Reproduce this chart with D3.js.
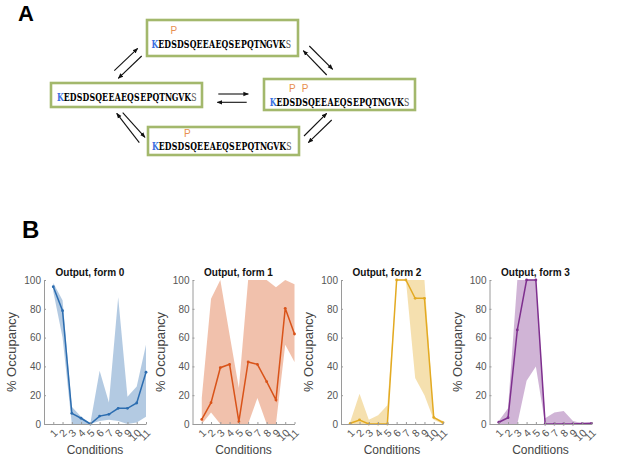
<!DOCTYPE html>
<html>
<head>
<meta charset="utf-8">
<script src="https://cdn.jsdelivr.net/npm/d3@7.9.0/dist/d3.min.js"></script>
<style>
  html, body { margin: 0; padding: 0; background: #fff; }
  svg { display: block; }
</style>
</head>
<body>
<div id="chart"></div>
<script>
// ---- panel A: phospho states ----
const sequence = 'KEDSDSQEEAEQSEPQTNGVKS';
const stateSites = [[], [3], [3, 5], [5]];   // left, top, right, bottom

// ---- panel B: occupancy per condition ----
const conditions = [1, 2, 3, 4, 5, 6, 7, 8, 9, 10, 11];
const tickLabels = ['1', '2', '3', '4', '5', '6', '7', '8', '9', '10', '11'];
const yTicks = [0, 20, 40, 60, 80, 100];
const titles = ['Output, form 0', 'Output, form 1', 'Output, form 2', 'Output, form 3'];

const form0Mean  = [95.3, 78.7, 7.4, 4.0, 0.0, 5.5, 6.7, 10.9, 10.9, 14.6, 36.0];
const form0Upper = [98, 86, 12, 5, 0.5, 37, 15, 88, 19, 26, 55];
const form0Lower = [92, 60, 0, 0, 0, 2, 3, 2, 0, 1, 5];

const form1Mean  = [3.2, 14.8, 39.1, 41.4, 1.6, 43.1, 41.4, 29.4, 16.7, 80.3, 62.5];
const form1Upper = [18, 87, 100, 62, 25, 100, 100, 100, 95, 100, 97];
const form1Lower = [0, 8, 0, 0, 0, 0, 18, 0, 0, 55, 43];

const form2Mean  = [0.5, 2.8, 0, 0, 0, 100, 100, 87.3, 87.3, 4.6, 1.0];
const form2Upper = [1.5, 21, 3, 6, 13, 100, 100, 100, 100, 5, 2];
const form2Lower = [0, 0, 0, 0, 0, 100, 100, 32, 20, 3, 0];

const form3Mean  = [1.2, 4.4, 65.3, 100, 100, 0, 0, 0, 0, 0.3, 0.5];
const form3Upper = [2, 11, 100, 100, 100, 4, 8, 9, 2, 0.5, 0.5];
const form3Lower = [0, 0, 0, 30, 40, 0, 0, 0, 0, 0, 0];

const lineColors = ['#2c6db0', '#d95319', '#e3aa22', '#7e2f8e'];

const width = 617, height = 460;
const svg = d3.select('#chart').append('svg')
  .attr('width', width).attr('height', height)
  .attr('viewBox', `0 0 ${width} ${height}`);

// panel letters
svg.append('text').attr('x', 18).attr('y', 21)
  .style('font', 'bold 22px "Liberation Sans", Arial, sans-serif').text('A');
svg.append('text').attr('x', 22).attr('y', 238)
  .style('font', 'bold 24px "Liberation Sans", Arial, sans-serif').text('B');

// ---- panel A ----
const boxes = [
  { x: 51, y: 83, w: 151, h: 24, tx: 57.3, ty: 100.5, pOff: 14 },    // left
  { x: 147, y: 20, w: 151, h: 36, tx: 151.7, ty: 47.5, pOff: 14 },   // top
  { x: 264, y: 79, w: 151, h: 31, tx: 270, ty: 105.5, pOff: 14 },    // right
  { x: 148, y: 127, w: 151, h: 28, tx: 152.3, ty: 150, pOff: 12.8 }  // bottom
];
const cw = 6.36, sx = 0.72;
const gA = svg.append('g');
boxes.forEach((b, i) => {
  gA.append('rect').attr('x', b.x).attr('y', b.y).attr('width', b.w).attr('height', b.h)
    .attr('fill', '#fff').attr('stroke', '#a3b86c').attr('stroke-width', 2.6);
  const seqG = gA.append('g').attr('transform', `translate(${b.tx},${b.ty}) scale(${sx},1)`);
  seqG.selectAll('text').data(sequence.split('')).join('text')
    .attr('x', (c, k) => (k + 0.5) * cw / sx).attr('y', 0)
    .attr('text-anchor', 'middle')
    .attr('fill', (c, k) => k === 0 ? '#3a6fe0' : (k === sequence.length - 1 ? '#555' : '#000'))
    .style('font-family', '"DejaVu Serif", "Liberation Serif", serif')
    .style('font-size', '10.8px')
    .style('font-weight', (c, k) => k === sequence.length - 1 ? 'normal' : 'bold')
    .text(c => c);
  stateSites[i].forEach(s => {
    gA.append('text').attr('x', b.tx + (s + 0.5) * cw).attr('y', b.ty - b.pOff)
      .attr('text-anchor', 'middle').attr('fill', '#e8904f')
      .style('font', '10px "Liberation Sans", Arial, sans-serif').text('P');
  });
});

// arrows
const defs = svg.append('defs');
defs.append('marker').attr('id', 'ah').attr('viewBox', '0 0 10 10')
  .attr('refX', 9).attr('refY', 5).attr('markerWidth', 5).attr('markerHeight', 5)
  .attr('orient', 'auto')
  .append('path').attr('d', 'M0,1 L10,5 L0,9 Z').attr('fill', '#111');
const arrows = [
  [114.3, 70.7, 137.7, 48.3], [141.7, 56, 118.3, 78.3],
  [326.7, 75, 303.3, 50.7], [309.3, 46, 332.7, 69.3],
  [218.3, 94, 248.3, 94], [246.7, 102.3, 217.3, 102.3],
  [139.3, 142.7, 116.7, 113.3], [122.7, 112.7, 145, 137.3],
  [304, 136, 326.7, 113.3], [331.7, 120, 308.3, 142.7]
];
arrows.forEach(a => {
  gA.append('line').attr('x1', a[0]).attr('y1', a[1]).attr('x2', a[2]).attr('y2', a[3])
    .attr('stroke', '#111').attr('stroke-width', 1.1).attr('marker-end', 'url(#ah)');
});

// ---- panel B ----
const series = [
  { mean: form0Mean, upper: form0Upper, lower: form0Lower },
  { mean: form1Mean, upper: form1Upper, lower: form1Lower },
  { mean: form2Mean, upper: form2Upper, lower: form2Lower },
  { mean: form3Mean, upper: form3Upper, lower: form3Lower }
];
const plotW = 102, plotTop = 280, plotBottom = 424;
const y = d3.scaleLinear().domain([0, 100]).range([plotBottom, plotTop]);

series.forEach((s, i) => {
  const left = 44 + 148.5 * i;
  const x = d3.scaleLinear().domain([0, 11]).range([left, left + plotW]);
  const g = svg.append('g');
  const col = lineColors[i];

  const area = d3.area()
    .x((d, j) => x(conditions[j]))
    .y0((d, j) => y(s.lower[j]))
    .y1((d, j) => y(s.upper[j]));
  g.append('path').datum(s.mean).attr('d', area)
    .attr('fill', col).attr('fill-opacity', 0.36);

  const line = d3.line().x((d, j) => x(conditions[j])).y(d => y(d));
  g.append('path').datum(s.mean).attr('d', line)
    .attr('fill', 'none').attr('stroke', col).attr('stroke-width', 1.5);
  g.selectAll('circle').data(s.mean).join('circle')
    .attr('cx', (d, j) => x(conditions[j])).attr('cy', d => y(d))
    .attr('r', 1.4).attr('fill', col);

  const yAx = g.append('g').attr('transform', `translate(${left},0)`)
    .call(d3.axisLeft(y).tickValues(yTicks).tickSize(-2).tickSizeOuter(0));
  const xAx = g.append('g').attr('transform', `translate(0,${plotBottom})`)
    .call(d3.axisBottom(x).tickValues(conditions).tickSize(-2).tickSizeOuter(0)
      .tickFormat((d, j) => tickLabels[j]));
  [yAx, xAx].forEach(ax => {
    ax.select('.domain').attr('stroke', '#9a9a9a');
    ax.selectAll('.tick line').attr('stroke', '#9a9a9a');
    ax.selectAll('text').attr('fill', '#555')
      .style('font-family', '"Liberation Sans", Arial, sans-serif').style('font-size', '10px');
  });
  xAx.selectAll('text')
    .style('font-size', '10.5px')
    .attr('x', 0).attr('y', 0).attr('dy', '0.35em')
    .attr('text-anchor', 'end')
    .attr('transform', 'translate(2,7) rotate(-45)');

  g.append('text').attr('x', left + plotW / 2 - 5).attr('y', 276)
    .attr('text-anchor', 'middle').attr('fill', '#111')
    .style('font', 'bold 10px "Liberation Sans", Arial, sans-serif').text(titles[i]);
  g.append('text').attr('x', left + plotW / 2).attr('y', 454)
    .attr('text-anchor', 'middle').attr('fill', '#444')
    .style('font', '12px "Liberation Sans", Arial, sans-serif').text('Conditions');
  g.append('text')
    .attr('transform', `translate(${left - 28},${(plotTop + plotBottom) / 2}) rotate(-90)`)
    .attr('text-anchor', 'middle').attr('fill', '#444')
    .style('font', '13px "Liberation Sans", Arial, sans-serif').text('% Occupancy');
});
</script>
</body>
</html>
